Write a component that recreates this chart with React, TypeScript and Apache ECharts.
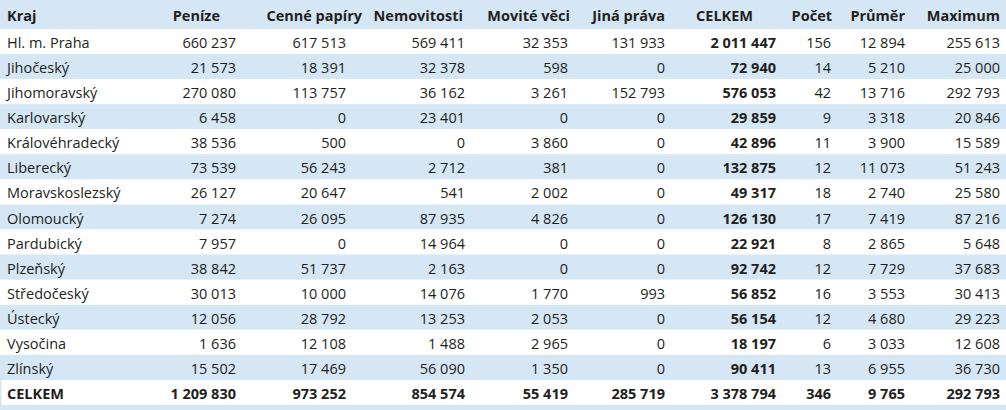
import React, { useEffect, useRef } from "react";
import * as echarts from "echarts";

const headers = ["Kraj", "Peníze", "Cenné papíry", "Nemovitosti", "Movité věci", "Jiná práva", "CELKEM", "Počet", "Průměr", "Maximum"];
const regions = ["Hl. m. Praha", "Jihočeský", "Jihomoravský", "Karlovarský", "Královéhradecký", "Liberecký", "Moravskoslezský", "Olomoucký", "Pardubický", "Plzeňský", "Středočeský", "Ústecký", "Vysočina", "Zlínský"];
const penize = [660237, 21573, 270080, 6458, 38536, 73539, 26127, 7274, 7957, 38842, 30013, 12056, 1636, 15502];
const cennePapiry = [617513, 18391, 113757, 0, 500, 56243, 20647, 26095, 0, 51737, 10000, 28792, 12108, 17469];
const nemovitosti = [569411, 32378, 36162, 23401, 0, 2712, 541, 87935, 14964, 2163, 14076, 13253, 1488, 56090];
const moviteVeci = [32353, 598, 3261, 0, 3860, 381, 2002, 4826, 0, 0, 1770, 2053, 2965, 1350];
const jinaPrava = [131933, 0, 152793, 0, 0, 0, 0, 0, 0, 0, 993, 0, 0, 0];
const celkem = [2011447, 72940, 576053, 29859, 42896, 132875, 49317, 126130, 22921, 92742, 56852, 56154, 18197, 90411];
const pocet = [156, 14, 42, 9, 11, 12, 18, 17, 8, 12, 16, 12, 6, 13];
const prumer = [12894, 5210, 13716, 3318, 3900, 11073, 2740, 7419, 2865, 7729, 3553, 4680, 3033, 6955];
const maximum = [255613, 25000, 292793, 20846, 15589, 51243, 25580, 87216, 5648, 37683, 30413, 29223, 12608, 36730];
const totalLabel = "CELKEM";
const totals = [1209830, 973252, 854574, 55419, 285719, 3378794, 346, 9765, 292793];

// layout (positions in px on a 0..1006 value axis)
const W = 1006;
const H = 410;
const HEADER_H = 29;
const BOTTOM_BORDER = 5;
const labelLeft = 7;
const valueRight = [236, 346, 465, 568, 665, 776, 831, 905, 1000];
const headerRight = [220, 362, 463, 570, 665, 753, 832, 905, 1000];
const boldColumn = 5;

const BLUE = "#d5e6f4";
const TEXT = "#231f20";
const FONT = "'Open Sans', sans-serif";
const FS = 14.5;

const fmt = (n: number) => String(n).replace(/\B(?=(\d{3})+(?!\d))/g, " ");

export default function App() {
  const ref = useRef<HTMLDivElement>(null);
  useEffect(() => {
    document.body.style.margin = "0";
    if (!ref.current) return;
    const chart = echarts.init(ref.current, undefined, { renderer: "svg" });
    const columns = [penize, cennePapiry, nemovitosti, moviteVeci, jinaPrava, celkem, pocet, prumer, maximum];
    const rowLabels = [...regions, totalLabel];

    type Cell = { x: number; row: number; text: string; align: string; bold: boolean };
    const cells: Cell[] = [];
    rowLabels.forEach((lab, r) => {
      const isTotal = r === regions.length;
      cells.push({ x: labelLeft, row: r, text: lab, align: "left", bold: isTotal });
      columns.forEach((col, c) => {
        const v = isTotal ? totals[c] : col[r];
        cells.push({ x: valueRight[c], row: r, text: fmt(v), align: "right", bold: isTotal || c === boldColumn });
      });
    });

    const headerGraphics: any[] = [
      { type: "rect", shape: { x: 0, y: 0, width: W, height: HEADER_H }, style: { fill: BLUE }, silent: true },
      { type: "rect", shape: { x: 0, y: H - BOTTOM_BORDER, width: W, height: BOTTOM_BORDER }, style: { fill: BLUE }, silent: true },
    ];
    headers.forEach((h, i) => {
      headerGraphics.push({
        type: "text",
        x: i === 0 ? labelLeft : headerRight[i - 1],
        y: HEADER_H / 2 + 1,
        style: {
          text: h,
          align: i === 0 ? "left" : "right",
          verticalAlign: "middle",
          fontFamily: FONT,
          fontSize: FS,
          fontWeight: "bold",
          fill: TEXT,
        },
      });
    });

    const lastRow = regions.length;

    chart.setOption({
      animation: false,
      grid: { left: 0, right: 0, top: HEADER_H, bottom: BOTTOM_BORDER },
      xAxis: { type: "value", min: 0, max: W, show: false },
      yAxis: { type: "category", data: rowLabels, inverse: true, show: false },
      graphic: headerGraphics,
      series: [
        {
          type: "custom",
          silent: true,
          data: rowLabels.map((_, i) => [0, i]),
          renderItem: (params: any, api: any) => {
            const i = params.dataIndex;
            const p = api.coord([0, i]);
            const bh = api.size([0, 1])[1];
            const p2 = api.coord([W, i]);
            const children: any[] = [
              {
                type: "rect",
                shape: { x: p[0], y: p[1] - bh / 2, width: p2[0] - p[0], height: bh },
                style: { fill: i % 2 === 1 ? BLUE : "#ffffff" },
              },
            ];
            if (i === lastRow) {
              children.push({
                type: "rect",
                shape: { x: p[0], y: p[1] - bh / 2, width: 1.5, height: bh },
                style: { fill: BLUE },
              });
            }
            return { type: "group", children };
          },
        },
        {
          type: "custom",
          silent: true,
          data: cells.map((c) => [c.x, c.row]),
          renderItem: (params: any, api: any) => {
            const c = cells[params.dataIndex];
            const p = api.coord([c.x, c.row]);
            return {
              type: "text",
              x: p[0],
              y: p[1] + 1,
              style: {
                text: c.text,
                align: c.align,
                verticalAlign: "middle",
                fontFamily: FONT,
                fontSize: FS,
                fontWeight: c.bold ? "bold" : "normal",
                fill: TEXT,
              },
            };
          },
        },
      ],
    });
    return () => chart.dispose();
  }, []);
  return <div ref={ref} style={{ width: W, height: H }} />;
}
